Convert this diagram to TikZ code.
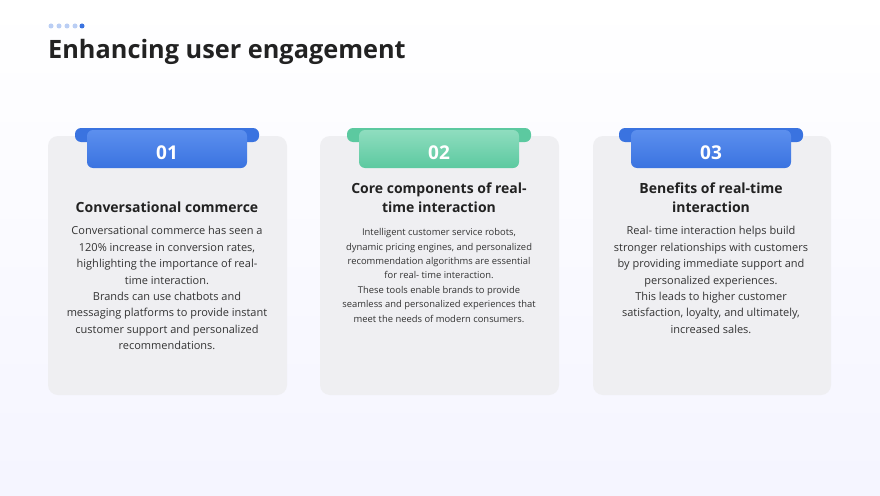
\documentclass[tikz,border=0pt]{standalone}
\usepackage{fontspec}
\setmainfont{Open Sans}
\definecolor{tabblue}{HTML}{3A73E0}
\definecolor{tabbluelt}{HTML}{5C8FEE}
\definecolor{tabgreen}{HTML}{5CC9A0}
\definecolor{tabgreenlt}{HTML}{8FDDBF}
\definecolor{cardgray}{HTML}{EFEFF2}
\definecolor{inkdark}{HTML}{222222}
\definecolor{inkbody}{HTML}{333333}
\tikzset{
  card/.style={fill=cardgray, rounded corners=10pt},
  cardtitle/.style={font=\fontsize{14}{19}\selectfont\bfseries, text=inkdark, align=center, anchor=north},
  cardbody/.style={text=inkbody, align=center, anchor=north},
  tabnum/.style={font=\fontsize{19}{19}\selectfont\bfseries, text=white}
}
\newcommand{\tabbox}[4]{% x, dark colour, light colour, number
  \fill[#2, rounded corners=6pt] (#1-92,128) rectangle (#1+92,142);
  \shade[top color=#3, bottom color=#2, rounded corners=6pt] (#1-80,130) rectangle (#1+80,168);
  \node[tabnum] (num#4) at (#1,153) {#4};
}
\begin{document}
\begin{tikzpicture}[x=1pt,y=-1pt]
\useasboundingbox (0,0) rectangle (880,495);
\shade[top color=white, bottom color=blue!4] (0,0) rectangle (880,495);
% dots
\foreach \x in {51,59,67,75} \fill[tabblue!35] (\x,26) circle (2.5);
\fill[tabblue] (82,26) circle (2.5);
\node[anchor=west, font=\fontsize{25.3}{25.3}\selectfont\bfseries, text=inkdark, inner sep=0pt] (title) at (48,52) {Enhancing user engagement};
% cards
\fill[card] (48,136) rectangle (287,395);
\fill[card] (320,136) rectangle (559,395);
\fill[card] (593,136) rectangle (831,395);
\tabbox{167}{tabblue}{tabbluelt}{01}
\tabbox{439}{tabgreen}{tabgreenlt}{02}
\tabbox{711}{tabblue}{tabbluelt}{03}
\node[cardtitle] (head1) at (167,198) {Conversational commerce};
\node[cardbody, font=\fontsize{11}{16.4}\selectfont] (body1) at (167,223)
  {Conversational commerce has seen a\\120\% increase in conversion rates,\\highlighting the importance of real-\\time interaction.\\Brands can use chatbots and\\messaging platforms to provide instant\\customer support and personalized\\recommendations.};
\node[cardtitle] (head2) at (439,179) {Core components of real-\\time interaction};
\node[cardbody, font=\fontsize{9.4}{14.4}\selectfont] (body2) at (439,225)
  {Intelligent customer service robots,\\dynamic pricing engines, and personalized\\recommendation algorithms are essential\\for real- time interaction.\\These tools enable brands to provide\\seamless and personalized experiences that\\meet the needs of modern consumers.};
\node[cardtitle] (head3) at (711,179) {Benefits of real-time\\interaction};
\node[cardbody, font=\fontsize{11}{16.4}\selectfont] (body3) at (711,223)
  {Real- time interaction helps build\\stronger relationships with customers\\by providing immediate support and\\personalized experiences.\\This leads to higher customer\\satisfaction, loyalty, and ultimately,\\increased sales.};
\end{tikzpicture}
\end{document}
